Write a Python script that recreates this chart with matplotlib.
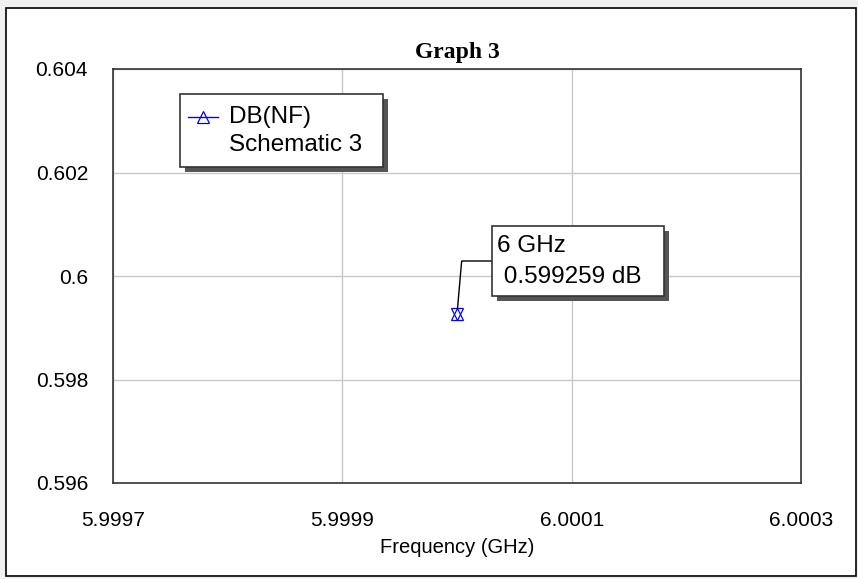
import matplotlib
matplotlib.use("Agg")
import matplotlib.pyplot as plt
from matplotlib.patches import Rectangle

freq = [6.0]
nf_db = [0.599259]
xticks = [5.9997, 5.9999, 6.0001, 6.0003]
yticks = [0.596, 0.598, 0.6, 0.602, 0.604]
ytick_labels = ["0.596", "0.598", "0.6", "0.602", "0.604"]

plt.rcParams['font.family'] = ['Liberation Sans', 'DejaVu Sans']

fig = plt.figure(figsize=(8.58, 5.79), dpi=100)
fig.patch.set_facecolor('#f0f0f0')
# white page with black border
fig.patches.append(Rectangle((6/858, 1 - 576/579), 850/858, 568/579, transform=fig.transFigure,
                             facecolor='white', edgecolor='black', lw=1.2, zorder=-1))

ax = fig.add_axes([113/858, 1 - 483/579, 688/858, 414/579])
ax.set_xlim(5.9997, 6.0003)
ax.set_ylim(0.596, 0.604)
ax.set_xticks(xticks)
ax.set_xticklabels([f"{t:.4f}" for t in xticks])
ax.set_yticks(yticks)
ax.set_yticklabels(ytick_labels)
ax.tick_params(length=0, labelsize=15)
ax.tick_params(axis='x', pad=20)
ax.tick_params(axis='y', pad=18)
ax.grid(True, color='#c8c8c8', lw=1)
for s in ax.spines.values():
    s.set_color('#333333')
    s.set_linewidth(1.2)
ax.set_xlabel("Frequency (GHz)", fontsize=14.5, labelpad=6)
ax.set_title("Graph 3", family='Liberation Serif', fontweight='bold', fontsize=17, pad=8)

ax.plot(freq, nf_db, color='blue', lw=1, marker='^', ms=9, mfc='none', mew=0.9, zorder=4)
ax.plot(freq, nf_db, ls='none', marker='v', ms=9, mfc='none', mec='blue', mew=0.9, zorder=4)

tf = fig.transFigure

# marker annotation
ax.annotate("", xy=(freq[0], nf_db[0]), xycoords='data',
            xytext=(492/858, 1 - 261/579), textcoords='figure fraction',
            arrowprops=dict(arrowstyle='-', color='black', lw=1, shrinkA=0, shrinkB=4,
                            connectionstyle='angle,angleA=0,angleB=85,rad=0'), zorder=5)
ax.add_patch(Rectangle((497/858, 1 - 301/579), 172/858, 70/579, transform=tf,
                       facecolor='#555555', edgecolor='none', zorder=5, clip_on=False))
ax.add_patch(Rectangle((492/858, 1 - 296/579), 172/858, 70/579, transform=tf,
                       facecolor='white', edgecolor='#333333', lw=1.2, zorder=6, clip_on=False))
ax.text(497/858, 1 - 246/579, "6 GHz", transform=tf, fontsize=17.5, va='center', zorder=7)
ax.text(497/858, 1 - 277/579, f" {nf_db[0]:.6f} dB", transform=tf, fontsize=17.5,
        va='center', zorder=7)

# legend box
ax.add_patch(Rectangle((185/858, 1 - 172/579), 203/858, 73/579, transform=tf,
                       facecolor='#555555', edgecolor='none', zorder=5, clip_on=False))
ax.add_patch(Rectangle((180/858, 1 - 167/579), 203/858, 73/579, transform=tf,
                       facecolor='white', edgecolor='#333333', lw=1.2, zorder=6, clip_on=False))
ax.plot([188/858, 218/858], [1 - 117/579] * 2, transform=tf, color='blue', lw=1, zorder=7, clip_on=False)
ax.plot([203/858], [1 - 117/579], transform=tf, marker='^', ms=8, mfc='none',
        mec='blue', mew=0.9, zorder=7, clip_on=False)
ax.text(229/858, 1 - 117/579, "DB(NF)", transform=tf, fontsize=17.5, va='center', zorder=7)
ax.text(229/858, 1 - 145/579, "Schematic 3", transform=tf, fontsize=17.5, va='center', zorder=7)

fig.savefig("out.png", dpi=100, facecolor=fig.get_facecolor())
